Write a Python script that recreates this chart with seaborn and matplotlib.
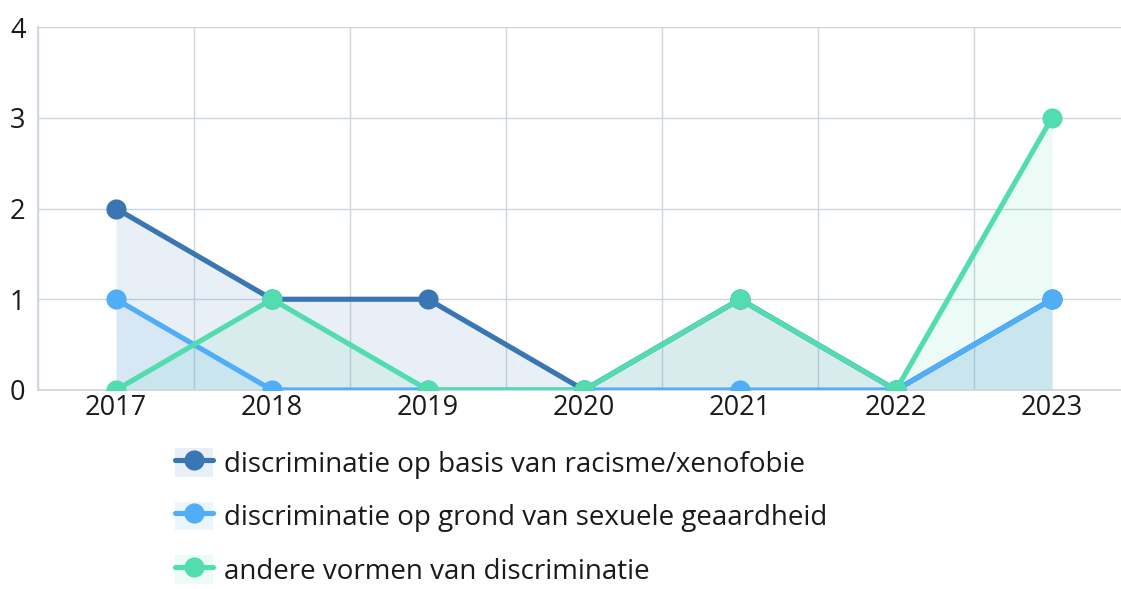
import numpy as np
import pandas as pd
import seaborn as sns
import matplotlib.pyplot as plt
from matplotlib.lines import Line2D
from matplotlib.patches import Patch
from matplotlib.legend_handler import HandlerTuple

# data
years = ['2017', '2018', '2019', '2020', '2021', '2022', '2023']
racisme = [2, 1, 1, 0, 1, 0, 1]
seksuele = [1, 0, 0, 0, 0, 0, 1]
andere = [0, 1, 0, 0, 1, 0, 3]
series_names = [
    'discriminatie op basis van racisme/xenofobie',
    'discriminatie op grond van sexuele geaardheid',
    'andere vormen van discriminatie',
]
colors = ['#3a76b1', '#50adf8', '#52dcb0']

sns.set_theme(style='white')
plt.rcParams['font.family'] = ['Open Sans', 'DejaVu Sans']

rows = []
for name, vals in zip(series_names, [racisme, seksuele, andere]):
    for i, (y, v) in enumerate(zip(years, vals)):
        rows.append({'serie': name, 'jaar': y, 'pos': i, 'aantal': v})
df = pd.DataFrame(rows)

fig = plt.figure(figsize=(11.21, 5.89), dpi=100)
# de grafiek loopt iets voorbij de rechterrand door (zoals in het origineel)
ax = fig.add_axes([38 / 1121, 1 - 390 / 589, 1092 / 1121, 363 / 589])

# lichte vulling onder elke lijn
for name, c in zip(series_names, colors):
    sub = df[df['serie'] == name]
    ax.fill_between(sub['pos'], 0, sub['aantal'], color=c, alpha=0.11, linewidth=0, zorder=1)

sns.lineplot(data=df, x='pos', y='aantal', hue='serie', palette=colors,
             marker='o', markersize=14.5, markeredgewidth=0, linewidth=3.7,
             ax=ax, legend=False, zorder=3)

ax.set_xlim(-0.5, 6.5)
ax.set_ylim(0, 4)
ax.set_xticks(range(len(years)))
ax.set_xticklabels(years)
ax.set_xticks(np.arange(-0.5, 7, 1), minor=True)
ax.set_yticks([0, 1, 2, 3, 4])
ax.grid(False)
ax.grid(True, which='minor', axis='x', color='#ccd6e0', linewidth=1, zorder=0)
ax.grid(True, which='major', axis='y', color='#ccd6e0', linewidth=1, zorder=0)
ax.set_axisbelow(True)
ax.tick_params(which='both', length=0)
ax.tick_params(axis='x', labelsize=19.5, pad=3, colors='#1a1a1a')
ax.tick_params(axis='y', labelsize=19.5, pad=9, colors='#1a1a1a')
ax.set_xlabel('')
ax.set_ylabel('')
for s in ['top', 'right']:
    ax.spines[s].set_visible(False)
ax.spines['left'].set_color('#ccd6e0')
ax.spines['bottom'].set_color('#ccd6e0')

handles = []
for c in colors:
    handles.append((Patch(facecolor=c, alpha=0.11, edgecolor='none'),
                    Line2D([], [], color=c, linewidth=3.7, marker='o',
                           markersize=14.5, markeredgewidth=0)))
fig.legend(handles, series_names, handler_map={tuple: HandlerTuple(ndivide=1)},
           loc='upper left', bbox_to_anchor=(175 / 1121, 1 - 448 / 589),
           frameon=False, fontsize=20, handlelength=1.37, handleheight=1.22,
           handletextpad=0.4, labelspacing=0.82, borderpad=0, borderaxespad=0,
           labelcolor='#1a1a1a')

fig.savefig('out.png', dpi=100)
